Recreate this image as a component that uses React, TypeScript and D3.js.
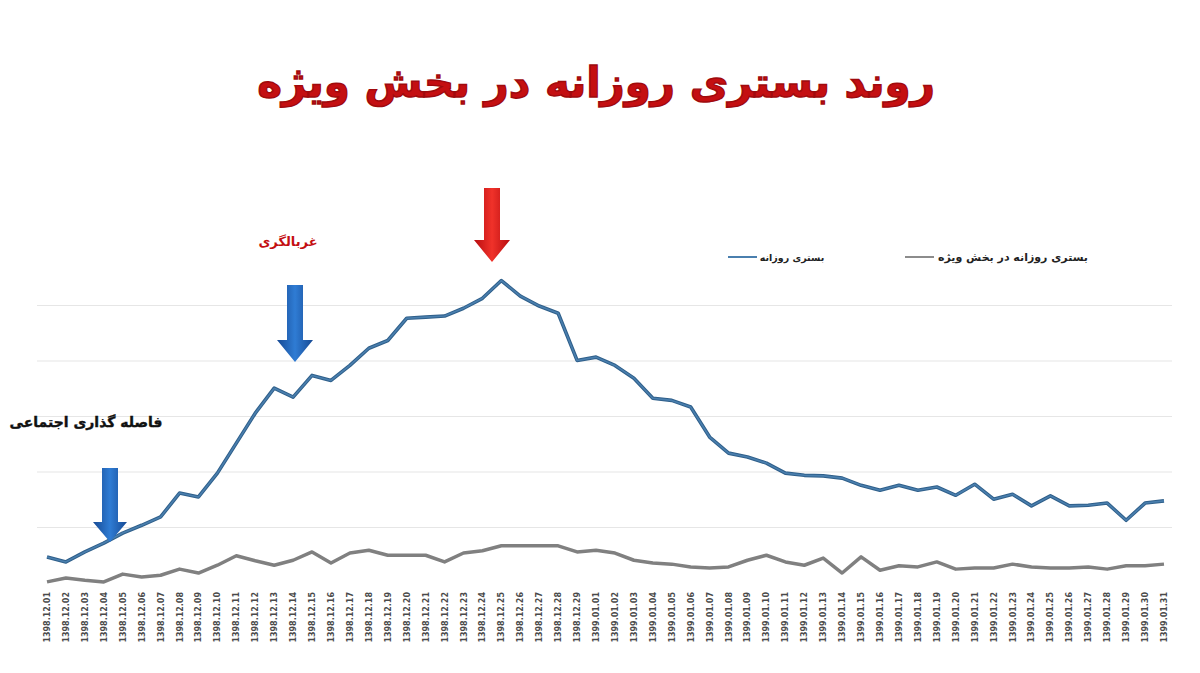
import React from "react";
import * as d3 from "d3";

const days1398 = Array.from({ length: 29 }, (_, i) => `1398.12.${String(i + 1).padStart(2, "0")}`);
const days1399 = Array.from({ length: 31 }, (_, i) => `1399.01.${String(i + 1).padStart(2, "0")}`);
const dates: string[] = [...days1398, ...days1399];

const dailyAdmissions: number[] = [
  47, 38, 56, 72, 90, 104, 119, 162, 155, 198,
  252, 306, 351, 335, 374, 365, 392, 423, 437, 477,
  479, 481, 495, 513, 545, 517, 499, 486, 401, 407,
  392, 369, 333, 329, 317, 263, 234, 227, 216, 198,
  194, 193, 189, 176, 167, 176, 167, 173, 158, 178,
  151, 160, 139, 157, 139, 140, 144, 113, 144, 148,
];

const icuAdmissions: number[] = [
  2, 9, 5, 2, 16, 11, 14, 25, 18, 32,
  49, 40, 32, 41, 56, 36, 54, 59, 50, 50,
  50, 38, 54, 58, 67, 67, 67, 67, 56, 59,
  54, 41, 36, 34, 29, 27, 29, 41, 50, 38,
  32, 45, 18, 47, 23, 31, 29, 38, 25, 27,
  27, 34, 29, 27, 27, 29, 25, 31, 31, 34,
];

const gridTicks: number[] = [100, 200, 300, 400, 500];

const title = "روند بستری روزانه در بخش ویژه";
const legendDaily = "بستری روزانه";
const legendIcu = "بستری روزانه در بخش ویژه";
const noteDistancing = "فاصله گذاری اجتماعی";
const noteScreening = "غربالگری";

const W = 1200;
const H = 673;
const FONT = "'DejaVu Sans', sans-serif";

function Arrow({ id, cx, top, shaftW, headTop, headW, tip }: any) {
  const s = shaftW / 2;
  const h = headW / 2;
  const d = `M${cx - s},${top} L${cx + s},${top} L${cx + s},${headTop} L${cx + h},${headTop} L${cx},${tip} L${cx - h},${headTop} L${cx - s},${headTop} Z`;
  return <path d={d} fill={`url(#${id})`} />;
}

export default function App() {
  const x = d3.scalePoint<string>().domain(dates).range([47, 1164]);
  const y = d3.scaleLinear().domain([0, 600]).range([583, 250]);

  const line = d3
    .line<number>()
    .x((_, i) => x(dates[i]) as number)
    .y((v) => y(v));

  return (
    <svg
      width={W}
      height={H}
      viewBox={`0 0 ${W} ${H}`}
      style={{ position: "absolute", left: 0, top: 0, background: "#fff" }}
    >
      <defs>
        <linearGradient id="blueArrow" x1="0" x2="1" y1="0" y2="0">
          <stop offset="0" stopColor="#174a94" />
          <stop offset="0.5" stopColor="#2f7cd4" />
          <stop offset="1" stopColor="#174a94" />
        </linearGradient>
        <linearGradient id="redArrow" x1="0" x2="1" y1="0" y2="0">
          <stop offset="0" stopColor="#b80d10" />
          <stop offset="0.5" stopColor="#f0322a" />
          <stop offset="1" stopColor="#b80d10" />
        </linearGradient>
      </defs>

      <rect x={0} y={0} width={W} height={H} fill="#fff" />

      {/* title */}
      <text
        x={596}
        y={97}
        textAnchor="middle"
        direction="rtl"
        fontFamily={FONT}
        fontWeight="bold"
        fontSize={42}
        fill="#c40f12"
        stroke="#a00a0d"
        strokeWidth={1.4}
      >
        {title}
      </text>

      {/* gridlines */}
      {gridTicks.map((t) => (
        <line key={t} x1={37} x2={1172} y1={y(t)} y2={y(t)} stroke="#e6e6e6" strokeWidth={1.2} />
      ))}

      {/* series */}
      <path d={line(icuAdmissions) as string} fill="none" stroke="#808080" strokeWidth={3.5} strokeLinejoin="round" />
      <path d={line(dailyAdmissions) as string} fill="none" stroke="#2f5f8a" strokeWidth={3.6} strokeLinejoin="round" />
      <path d={line(dailyAdmissions) as string} fill="none" stroke="#4a7fae" strokeWidth={1.6} strokeLinejoin="round" />

      {/* x labels */}
      {dates.map((d) => (
        <text
          key={d}
          transform={`translate(${(x(d) as number) + 3},592) rotate(-90)`}
          textAnchor="end"
          fontFamily={FONT}
          fontWeight="bold"
          fontSize={8}
          fill="#4a4a4a"
        >
          {d}
        </text>
      ))}

      {/* legend */}
      <line x1={728} x2={757} y1={257} y2={257} stroke="#4a7fae" strokeWidth={2} />
      <text x={792} y={261} textAnchor="middle" direction="rtl" fontFamily={FONT} fontWeight="bold" fontSize={9.5} fill="#222">
        {legendDaily}
      </text>
      <line x1={905} x2={934} y1={257} y2={257} stroke="#8c8c8c" strokeWidth={2} />
      <text x={1013} y={261} textAnchor="middle" direction="rtl" fontFamily={FONT} fontWeight="bold" fontSize={11} fill="#222">
        {legendIcu}
      </text>

      {/* annotations */}
      <text x={86} y={427} textAnchor="middle" direction="rtl" fontFamily={FONT} fontWeight="bold" fontSize={14} fill="#111" stroke="#111" strokeWidth={0.4}>
        {noteDistancing}
      </text>
      <text x={288} y={246} textAnchor="middle" direction="rtl" fontFamily={FONT} fontWeight="bold" fontSize={13} fill="#c40f12">
        {noteScreening}
      </text>

      <Arrow id="blueArrow" cx={110} top={468} shaftW={16} headTop={522} headW={34} tip={542} />
      <Arrow id="blueArrow" cx={295} top={285} shaftW={16} headTop={340} headW={36} tip={362} />
      <Arrow id="redArrow" cx={492} top={188} shaftW={16} headTop={240} headW={36} tip={262} />
    </svg>
  );
}
